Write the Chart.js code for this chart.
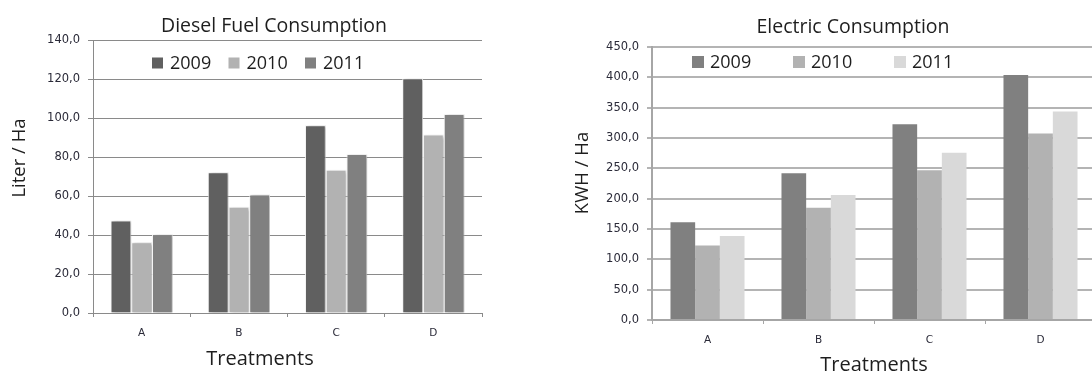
<!DOCTYPE html>
<html>
<head>
<meta charset="utf-8">
<script src="https://cdn.jsdelivr.net/npm/chart.js@4/dist/chart.umd.min.js"></script>
<style>
  html, body { margin: 0; padding: 0; background: #fff; overflow: hidden; width: 1092px; height: 371px; position: relative; }
  #dieselBox { position: absolute; left: 0; top: 0; width: 500px; height: 371px; }
  #electricBox { position: absolute; left: 560px; top: 0; width: 550px; height: 380px; }
</style>
</head>
<body>
<div id="dieselBox"><canvas id="diesel"></canvas></div>
<div id="electricBox"><canvas id="electric"></canvas></div>
<script>
// Treatments on the x axis, one bar per year
const treatments = ['A', 'B', 'C', 'D'];
const years = ['2009', '2010', '2011'];

// Diesel fuel consumption, Liter / Ha
const diesel2009 = [47.5, 72.2, 96.3, 120.3];
const diesel2010 = [36.3, 54.5, 73.5, 91.5];
const diesel2011 = [40.4, 60.8, 81.6, 102.0];

// Electric consumption, KWH / Ha
const electric2009 = [161.0, 242.0, 322.5, 404.0];
const electric2010 = [123.0, 185.0, 247.0, 307.5];
const electric2011 = [138.5, 206.0, 275.5, 343.5];

// Value axis ranges
const dieselAxis = { max: 140, step: 20 };
const electricAxis = { max: 450, step: 50 };

const TEXT = '#1e1e1e';
const TICK_TEXT = '#2a2a38';
const commaFmt = v => Number(v).toFixed(1).replace('.', ',');

// Legend drawn inside the plot area, top row
const insetLegend = {
  id: 'insetLegend',
  afterDraw(chart, args, o) {
    const { ctx, chartArea } = chart;
    ctx.save();
    ctx.font = o.font;
    ctx.textBaseline = 'middle';
    ctx.textAlign = 'left';
    chart.data.datasets.forEach((ds, i) => {
      const x = chartArea.left + o.dx + i * o.spacing;
      const y = chartArea.top + o.dy;
      ctx.fillStyle = ds.backgroundColor;
      ctx.fillRect(x, y - o.box / 2, o.box, o.box);
      ctx.fillStyle = o.color;
      ctx.fillText(ds.label, x + o.box + o.gap, y + 1);
    });
    ctx.restore();
  }
};

// Chart title and axis titles, placed freely on the canvas
const captions = {
  id: 'captions',
  afterDraw(chart, args, o) {
    const ctx = chart.ctx;
    o.items.forEach(t => {
      ctx.save();
      ctx.translate(t.x, t.y);
      if (t.rotate) ctx.rotate(-Math.PI / 2);
      ctx.font = t.font;
      ctx.fillStyle = t.color || TEXT;
      ctx.textAlign = 'center';
      ctx.textBaseline = t.rotate ? 'middle' : 'alphabetic';
      ctx.fillText(t.text, 0, 0);
      ctx.restore();
    });
  }
};

// Soft drop shadow behind the bars
const barShadow = {
  id: 'barShadow',
  beforeDatasetsDraw(chart, args, o) {
    const c = chart.ctx;
    c.save();
    c.shadowColor = o.color;
    c.shadowBlur = o.blur;
    c.shadowOffsetX = o.dx;
    c.shadowOffsetY = o.dy;
  },
  afterDatasetsDraw(chart) {
    chart.ctx.restore();
  }
};

function buildChart(id, cfg) {
  return new Chart(document.getElementById(id), {
    type: 'bar',
    data: {
      labels: treatments,
      datasets: cfg.series.map((vals, i) => ({
        label: years[i],
        data: vals,
        backgroundColor: cfg.colors[i],
        borderColor: cfg.border,
        borderWidth: cfg.borderWidth,
        categoryPercentage: cfg.groupWidth,
        barPercentage: 1.0
      }))
    },
    options: {
      responsive: true,
      maintainAspectRatio: false,
      animation: false,
      devicePixelRatio: 1,
      layout: { padding: { left: 0, right: cfg.padRight, top: cfg.padTop, bottom: 0 } },
      plugins: {
        legend: { display: false },
        tooltip: { enabled: false },
        title: { display: false },
        insetLegend: cfg.legend,
        captions: { items: cfg.captions },
        barShadow: { color: 'rgba(0,0,0,0.28)', blur: 3, dx: 2, dy: 1 }
      },
      scales: {
        x: {
          afterFit: s => { s.height = cfg.xHeight; },
          grid: {
            display: true,
            drawOnChartArea: false,
            drawTicks: true,
            tickLength: 4,
            offset: true,
            color: cfg.axisColor,
            lineWidth: 1
          },
          border: { color: cfg.axisColor, width: cfg.axisWidth },
          ticks: {
            color: TICK_TEXT,
            padding: 10,
            font: { family: 'DejaVu Sans', size: 10.5 }
          },
          title: { display: false }
        },
        y: {
          min: 0,
          max: cfg.axis.max,
          afterFit: s => { s.width = cfg.yWidth; },
          grid: {
            color: cfg.gridColor,
            lineWidth: cfg.gridWidth,
            drawTicks: true,
            tickLength: 5
          },
          border: { color: cfg.axisColor, width: cfg.axisWidth },
          ticks: {
            stepSize: cfg.axis.step,
            color: TICK_TEXT,
            padding: 8,
            font: { family: 'DejaVu Sans', size: 11.5 },
            callback: v => commaFmt(v)
          }
        }
      }
    },
    plugins: cfg.extraPlugins
  });
}

const TITLE_FONT = '19.5px "Open Sans"';
const AXIS_TITLE_FONT = '20px "Open Sans"';
const SIDE_FONT = '18.5px "Open Sans"';

buildChart('diesel', {
  series: [diesel2009, diesel2010, diesel2011],
  colors: ['#606060', '#b2b2b2', '#808080'],
  border: 'rgba(245,245,245,0.9)',
  borderWidth: 1,
  groupWidth: 0.64,
  axis: dieselAxis,
  padRight: 18,
  padTop: 40,
  xHeight: 58,
  yWidth: 93,
  axisColor: '#8a8a8a',
  axisWidth: 1,
  gridColor: '#8a8a8a',
  gridWidth: 1,
  legend: { dx: 59, dy: 23, spacing: 76.5, box: 11, gap: 7, font: '18px "Open Sans"', color: TEXT },
  captions: [
    { text: 'Diesel Fuel Consumption', x: 274, y: 32, font: TITLE_FONT },
    { text: 'Treatments', x: 260, y: 365, font: AXIS_TITLE_FONT },
    { text: 'Liter / Ha', x: 20, y: 158, font: SIDE_FONT, rotate: true }
  ],
  extraPlugins: [insetLegend, captions, barShadow]
});

buildChart('electric', {
  series: [electric2009, electric2010, electric2011],
  colors: ['#808080', '#b2b2b2', '#d9d9d9'],
  border: 'rgba(0,0,0,0)',
  borderWidth: 0,
  groupWidth: 0.667,
  axis: electricAxis,
  padRight: 14,
  padTop: 47,
  xHeight: 60,
  yWidth: 92,
  axisColor: '#a6a6a6',
  axisWidth: 2,
  gridColor: '#b4b4b4',
  gridWidth: 2,
  legend: { dx: 40, dy: 15, spacing: 101, box: 12, gap: 6, font: '18px "Open Sans"', color: TEXT },
  captions: [
    { text: 'Electric Consumption', x: 293, y: 33, font: TITLE_FONT },
    { text: 'Treatments', x: 314, y: 371, font: AXIS_TITLE_FONT },
    { text: 'KWH / Ha', x: 23, y: 173, font: SIDE_FONT, rotate: true }
  ],
  extraPlugins: [insetLegend, captions]
});
</script>
</body>
</html>
